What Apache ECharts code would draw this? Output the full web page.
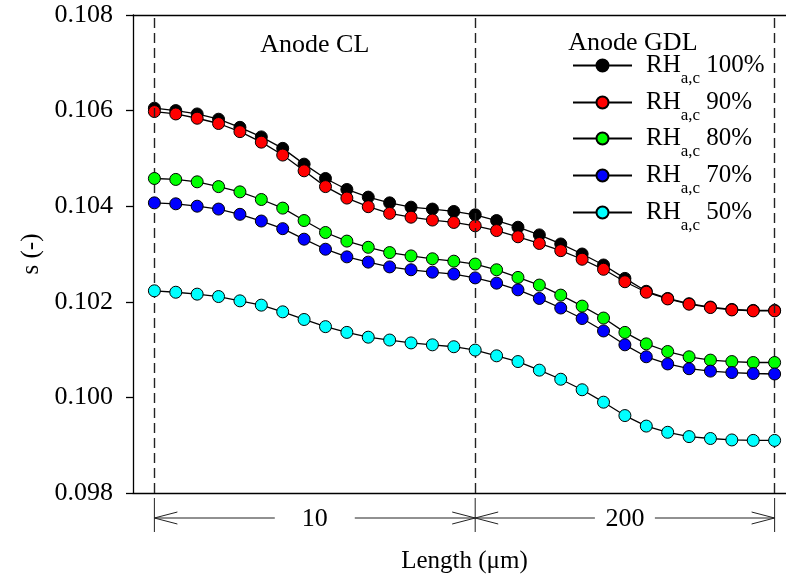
<!DOCTYPE html>
<html>
<head>
<meta charset="utf-8">
<script src="https://cdn.jsdelivr.net/npm/echarts@6/dist/echarts.min.js"></script>
<style>html,body{margin:0;padding:0;background:#fff}#c{width:786px;height:581px}</style>
</head>
<body>
<div id="c"></div>
<script>
// x positions (point index along the length; CL = 0..15, GDL = 15..29)
const positions = [0,1,2,3,4,5,6,7,8,9,10,11,12,13,14,15,16,17,18,19,20,21,22,23,24,25,26,27,28,29];
const seriesLabels = ['100%', '90%', '80%', '70%', '50%'];
const rh100 = [0.10605,0.10600,0.10593,0.10582,0.10565,0.10545,0.10521,0.10488,0.10458,0.10435,0.10419,0.10407,0.10398,0.10394,0.10389,0.10382,0.10370,0.10356,0.10340,0.10321,0.10300,0.10277,0.10249,0.10222,0.10207,0.10196,0.10189,0.10184,0.10182,0.10182];
const rh90  = [0.10598,0.10593,0.10584,0.10573,0.10556,0.10534,0.10507,0.10474,0.10441,0.10417,0.10399,0.10385,0.10377,0.10371,0.10366,0.10359,0.10349,0.10336,0.10322,0.10307,0.10289,0.10268,0.10242,0.10220,0.10206,0.10195,0.10188,0.10183,0.10181,0.10181];
const rh80  = [0.10458,0.10456,0.10451,0.10441,0.10430,0.10414,0.10396,0.10370,0.10345,0.10327,0.10314,0.10303,0.10296,0.10290,0.10285,0.10279,0.10267,0.10251,0.10235,0.10214,0.10191,0.10166,0.10136,0.10112,0.10096,0.10085,0.10078,0.10075,0.10073,0.10073];
const rh70  = [0.10407,0.10405,0.10400,0.10394,0.10383,0.10369,0.10353,0.10331,0.10310,0.10294,0.10283,0.10273,0.10267,0.10262,0.10258,0.10250,0.10239,0.10225,0.10207,0.10187,0.10165,0.10139,0.10110,0.10085,0.10070,0.10060,0.10055,0.10052,0.10050,0.10049];
const rh50  = [0.10223,0.10220,0.10216,0.10211,0.10202,0.10193,0.10179,0.10163,0.10148,0.10136,0.10126,0.10120,0.10114,0.10110,0.10106,0.10099,0.10087,0.10075,0.10057,0.10038,0.10016,0.09990,0.09962,0.09940,0.09927,0.09918,0.09914,0.09911,0.09910,0.09910];
const yTicks = [0.098, 0.100, 0.102, 0.104, 0.106, 0.108];
const sectionLabels = ['Anode CL', 'Anode GDL'];
const dimLabels = ['10', '200'];
const boundaries = [0, 15, 29];

const colors = ['#000000', '#ff0000', '#00ff00', '#0000ff', '#00ffff'];
const allData = [rh100, rh90, rh80, rh70, rh50];
const FONT = '"Liberation Serif", "Times New Roman", serif';
const names = seriesLabels.map(p => 'RH_a,c ' + p);

const chart = echarts.init(document.getElementById('c'), null, {renderer: 'canvas'});

const series = allData.map((arr, k) => ({
  name: names[k],
  type: 'line',
  data: positions.map((x, i) => [x, arr[i]]),
  symbol: 'circle',
  symbolSize: 12,
  itemStyle: {color: colors[k], borderColor: '#000', borderWidth: 1},
  lineStyle: {color: '#000', width: 1.3},
  emphasis: {disabled: true},
  animation: false,
  clip: false,
  z: 3 + k
}));
series.push({
  type: 'line', data: [], silent: true, animation: false,
  markLine: {
    silent: true, symbol: 'none', animation: false,
    label: {show: false},
    lineStyle: {color: '#222', type: [10, 5], width: 1.4},
    data: boundaries.map(b => ({xAxis: b}))
  }
});

const rowCenters = [75, 112, 148, 185, 222];
const legends = names.map((nm, k) => ({
  data: [nm],
  left: 572,
  top: rowCenters[k] - 22,
  padding: 0,
  orient: 'vertical',
  itemWidth: 59,
  itemHeight: 15,
  selectedMode: false,
  formatter: function(name){ return '{g|}{n|RH}{s|a,c}{n| ' + name.split(' ')[1] + '}'; },
  textStyle: {
    fontFamily: FONT, fontSize: 25, color: '#000',
    rich: {
      g: {width: 9, lineHeight: 44},
      n: {fontFamily: FONT, fontSize: 25, lineHeight: 44, verticalAlign: 'middle', color: '#000'},
      s: {fontFamily: FONT, fontSize: 17, lineHeight: 24, verticalAlign: 'bottom', color: '#000'}
    }
  }
}));

chart.setOption({
  backgroundColor: '#fff',
  animation: false,
  grid: {left: 133, width: 663, top: 15, bottom: 88, containLabel: false, outerBoundsMode: 'none'},
  legend: legends,
  xAxis: [{
    type: 'value', min: -1, max: 30, position: 'bottom',
    name: 'Length (μm)', nameLocation: 'middle', nameGap: 56,
    nameTextStyle: {fontFamily: FONT, fontSize: 25, color: '#000'},
    axisLine: {show: true, onZero: false, lineStyle: {color: '#000', width: 1.3}},
    axisTick: {show: false}, axisLabel: {show: false}, splitLine: {show: false}
  }, {
    type: 'value', min: -1, max: 30, position: 'top',
    axisLine: {show: true, onZero: false, lineStyle: {color: '#000', width: 1.3}},
    axisTick: {show: false}, axisLabel: {show: false}, splitLine: {show: false}
  }],
  yAxis: {
    type: 'value', min: 0.098, max: 0.108, interval: 0.002, position: 'left',
    name: 's (-)', nameLocation: 'middle', nameGap: 86, nameRotate: 90,
    nameTextStyle: {fontFamily: FONT, fontSize: 25, color: '#000'},
    axisLine: {show: true, onZero: false, lineStyle: {color: '#000', width: 1.3}},
    axisTick: {show: true, inside: false, length: 7, lineStyle: {color: '#000', width: 1.3}},
    axisLabel: {fontFamily: FONT, fontSize: 26, color: '#000', margin: 20,
      formatter: v => v.toFixed(3)},
    splitLine: {show: false}
  },
  series: series
});

// annotations positioned through the axis scale
const px = boundaries.map(b => chart.convertToPixel({xAxisIndex: 0}, b));
const mid = [(px[0] + px[1]) / 2, (px[1] + px[2]) / 2];
const yTop = 498, yBot = 532, yArr = 518, ah = 23, aw = 6;
const stroke = {stroke: '#222', lineWidth: 1};
const g = [];
px.forEach(x => g.push({type: 'line', shape: {x1: x, y1: yTop, x2: x, y2: yBot}, style: stroke, silent: true}));
const gapHalf = [[-40, 40], [-30, 30]];
for (let s = 0; s < 2; s++) {
  const a = px[s], b = px[s + 1], m = mid[s];
  g.push({type: 'line', shape: {x1: a, y1: yArr, x2: m + gapHalf[s][0], y2: yArr}, style: stroke, silent: true});
  g.push({type: 'line', shape: {x1: m + gapHalf[s][1], y1: yArr, x2: b, y2: yArr}, style: stroke, silent: true});
  g.push({type: 'polyline', shape: {points: [[a + ah, yArr - aw], [a, yArr], [a + ah, yArr + aw]]}, style: Object.assign({fill: null}, stroke), silent: true});
  g.push({type: 'polyline', shape: {points: [[b - ah, yArr - aw], [b, yArr], [b - ah, yArr + aw]]}, style: Object.assign({fill: null}, stroke), silent: true});
  g.push({type: 'text', x: m, y: yArr + 1, style: {text: dimLabels[s], font: '26px ' + FONT, fill: '#000', align: 'center', verticalAlign: 'middle'}, silent: true});
}
g.push({type: 'text', x: mid[0], y: 45, style: {text: sectionLabels[0], font: '26px ' + FONT, fill: '#000', align: 'center', verticalAlign: 'middle'}, silent: true});
g.push({type: 'text', x: mid[1] + 8, y: 43, style: {text: sectionLabels[1], font: '26px ' + FONT, fill: '#000', align: 'center', verticalAlign: 'middle'}, silent: true});
chart.setOption({graphic: g});
</script>
</body>
</html>
